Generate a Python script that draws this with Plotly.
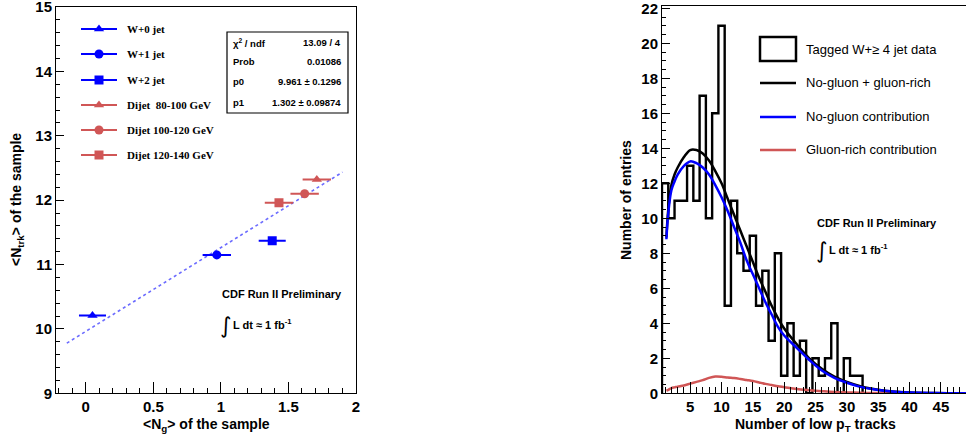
import plotly.graph_objects as go

# ---------------- Left panel data ----------------
samples = ["W+0 jet", "W+1 jet", "W+2 jet", "Dijet  80-100 GeV", "Dijet 100-120 GeV", "Dijet 120-140 GeV"]
ng_mean = [0.05, 0.97, 1.38, 1.71, 1.62, 1.43]
ng_err = [0.10, 0.105, 0.10, 0.105, 0.105, 0.105]
ntrk_mean = [10.21, 11.15, 11.37, 12.32, 12.10, 11.96]
sample_symbols = ["triangle-up", "circle", "square", "triangle-up", "circle", "square"]
sample_colors = ["#0000ff", "#0000ff", "#0000ff", "#d05656", "#d05656", "#d05656"]

fit_p0 = 9.961
fit_p1 = 1.302
fit_x = [-0.14, 1.90]
stats_labels = ["χ<sup>2</sup> / ndf", "Prob", "p0", "p1"]
stats_values = ["13.09 / 4", "0.01086", "9.961 ± 0.1296", "1.302 ± 0.09874"]

left_xticks = [0, 0.5, 1, 1.5, 2]
left_xtick_text = ["0", "0.5", "1", "1.5", "2"]
left_yticks = [9, 10, 11, 12, 13, 14, 15]

# ---------------- Right panel data ----------------
bin_centers = list(range(1, 33))
bin_counts = [12, 10, 11, 11, 13, 11, 17, 10, 16, 21, 5, 11, 8, 7, 9, 5,
              7, 3, 8, 1, 4, 1, 3, 0, 2, 1, 2, 4, 0, 2, 1, 1]
hist_xmax = 49.5

curve_x = [1.2, 1.5, 2, 2.5, 3, 4, 5, 6, 7, 8, 9, 10, 11, 12, 13, 14, 15, 16,
           17, 18, 19, 20, 22, 24, 26, 28, 30, 32, 34, 36, 38, 40, 44, 49]
total_y = [8.9, 10.5, 11.9, 12.5, 12.9, 13.5, 13.9, 13.9, 13.7, 13.3, 12.7, 12.0,
           11.1, 10.2, 9.3, 8.4, 7.5, 6.6, 5.8, 5.0, 4.3, 3.7, 2.8, 2.0, 1.4, 0.95,
           0.65, 0.42, 0.26, 0.15, 0.09, 0.05, 0.015, 0.0]
nogluon_y = [8.8, 10.3, 11.6, 12.1, 12.5, 13.0, 13.25, 13.15, 12.9, 12.5, 11.9, 11.2,
             10.4, 9.5, 8.6, 7.6, 6.8, 6.0, 5.2, 4.5, 3.8, 3.3, 2.6, 1.9, 1.3, 0.88,
             0.6, 0.38, 0.24, 0.14, 0.08, 0.05, 0.015, 0.0]
gluon_y = [0.15, 0.2, 0.3, 0.34, 0.38, 0.45, 0.55, 0.65, 0.75, 0.88, 0.96, 0.95,
           0.9, 0.87, 0.82, 0.76, 0.7, 0.62, 0.54, 0.47, 0.4, 0.35, 0.25, 0.18,
           0.12, 0.07, 0.05, 0.03, 0.02, 0.01, 0.008, 0.006, 0.004, 0.003]

right_xticks = [5, 10, 15, 20, 25, 30, 35, 40, 45]
right_yticks = [0, 2, 4, 6, 8, 10, 12, 14, 16, 18, 20, 22]

legend_right = ["Tagged W+≥ 4 jet data", "No-gluon + gluon-rich",
                "No-gluon contribution", "Gluon-rich contribution"]

W, H = 966, 440
BLUE = "#0000ff"
RED = "#d05656"
AX_FONT = dict(family="Liberation Sans, Arial", size=15, color="black")


def px(x):
    return x / W


def py(y):
    return 1 - y / H


def bold(labels):
    return ["<b>%s</b>" % s for s in labels]


fig = go.Figure()

# fit line (dotted)
fig.add_trace(go.Scatter(
    x=fit_x, y=[fit_p0 + fit_p1 * v for v in fit_x], mode="lines",
    line=dict(color="#6b6bff", width=1.6, dash="dot"),
    xaxis="x", yaxis="y", showlegend=False, hoverinfo="skip"))

for i in range(len(samples)):
    fig.add_trace(go.Scatter(
        x=[ng_mean[i]], y=[ntrk_mean[i]], mode="markers",
        marker=dict(symbol=sample_symbols[i], size=9, color=sample_colors[i]),
        error_x=dict(type="data", array=[ng_err[i]], color=sample_colors[i],
                     thickness=2, width=0),
        xaxis="x", yaxis="y", showlegend=False, name=samples[i]))

# histogram as a step outline
edges = [c - 0.5 for c in bin_centers] + [bin_centers[-1] + 0.5, hist_xmax]
step_y = [0] + bin_counts + [0, 0]
fig.add_trace(go.Scatter(
    x=[edges[0]] + edges, y=step_y, mode="lines", line_shape="hv",
    line=dict(color="black", width=2.4), xaxis="x2", yaxis="y2",
    showlegend=False, hoverinfo="skip"))

fig.add_trace(go.Scatter(x=curve_x, y=gluon_y, mode="lines", line=dict(color=RED, width=2.5),
                         xaxis="x2", yaxis="y2", showlegend=False, line_shape="spline"))
fig.add_trace(go.Scatter(x=curve_x, y=total_y, mode="lines", line=dict(color="black", width=2.5),
                         xaxis="x2", yaxis="y2", showlegend=False, line_shape="spline"))
fig.add_trace(go.Scatter(x=curve_x, y=nogluon_y, mode="lines", line=dict(color=BLUE, width=2.5),
                         xaxis="x2", yaxis="y2", showlegend=False, line_shape="spline"))

# ---------- overlay (pixel) axis for the left legend symbols ----------
leg_rows = [29, 54, 80, 105, 130, 155]
for i in range(len(samples)):
    fig.add_trace(go.Scatter(
        x=[81, 99, 117], y=[leg_rows[i]] * 3, mode="lines",
        line=dict(color=sample_colors[i], width=2), xaxis="x3", yaxis="y3",
        showlegend=False, hoverinfo="skip", cliponaxis=False))
    fig.add_trace(go.Scatter(
        x=[99], y=[leg_rows[i]], mode="markers",
        marker=dict(symbol=sample_symbols[i], size=9, color=sample_colors[i]),
        xaxis="x3", yaxis="y3", showlegend=False, hoverinfo="skip", cliponaxis=False))

annotations = []
shapes = []
for i in range(len(samples)):
    annotations.append(dict(
        x=px(125), y=py(leg_rows[i]), xref="paper", yref="paper", text="<b>%s</b>" % samples[i],
        showarrow=False, xanchor="left", yanchor="middle",
        font=dict(family="Liberation Serif, Times New Roman", size=11, color="black")))

# stats box
shapes.append(dict(type="rect", xref="paper", yref="paper", x0=px(227), x1=px(348),
                   y0=py(113), y1=py(32), line=dict(color="black", width=1.2),
                   fillcolor="white", layer="above"))
stat_rows = [42.7, 61.7, 81.5, 102.5]
SFONT = dict(family="Liberation Sans, Arial", size=9.5, color="black")
for i in range(4):
    annotations.append(dict(x=px(231), y=py(stat_rows[i]), xref="paper", yref="paper",
                            text="<b>%s</b>" % stats_labels[i], showarrow=False, xanchor="left",
                            yanchor="middle", font=SFONT))
    annotations.append(dict(x=px(343), y=py(stat_rows[i]), xref="paper", yref="paper",
                            text="<b>%s</b>" % stats_values[i], showarrow=False, xanchor="right",
                            yanchor="middle", font=SFONT))

PFONT = dict(family="Liberation Sans, Arial", size=11, color="black")
# CDF labels
for (cx, cy, ix, iy) in [(220, 294, 220, 325), (815, 223, 816, 250)]:
    annotations.append(dict(x=px(cx), y=py(cy), xref="paper", yref="paper",
                            text="<b>CDF Run II Preliminary</b>", showarrow=False,
                            xanchor="left", yanchor="middle", font=PFONT))
    annotations.append(dict(x=px(ix - 2), y=py(iy), xref="paper", yref="paper",
                            text="∫", showarrow=False, xanchor="left", yanchor="middle",
                            font=dict(family="DejaVu Sans", size=22, color="black")))
    annotations.append(dict(x=px(ix + 11), y=py(iy - 1), xref="paper", yref="paper",
                            text="<b>L dt ≈ 1 fb<sup>-1</sup></b>", showarrow=False,
                            xanchor="left", yanchor="middle", font=PFONT))

# axis titles
TFONT = dict(family="Liberation Sans, Arial", size=14, color="black")
annotations.append(dict(x=px(206), y=py(425), xref="paper", yref="paper",
                        text="<b><N<sub>g</sub>> of the sample</b>", showarrow=False,
                        xanchor="center", yanchor="middle", font=TFONT))
annotations.append(dict(x=px(17), y=py(200), xref="paper", yref="paper",
                        text="<b><N<sub>trk</sub>> of the sample</b>", showarrow=False,
                        textangle=-90, xanchor="center", yanchor="middle", font=TFONT))
annotations.append(dict(x=px(815), y=py(425), xref="paper", yref="paper",
                        text="<b>Number of low p<sub>T</sub> tracks</b>", showarrow=False,
                        xanchor="center", yanchor="middle", font=TFONT))
annotations.append(dict(x=px(626), y=py(200), xref="paper", yref="paper",
                        text="<b>Number of entries</b>", showarrow=False, textangle=-90,
                        xanchor="center", yanchor="middle", font=TFONT))

# right legend
shapes.append(dict(type="rect", xref="paper", yref="paper", x0=px(760), x1=px(796),
                   y0=py(61), y1=py(37), line=dict(color="black", width=2.5)))
for yy, col in [(83, "black"), (117, BLUE), (150, RED)]:
    shapes.append(dict(type="line", xref="paper", yref="paper", x0=px(760), x1=px(796),
                       y0=py(yy), y1=py(yy), line=dict(color=col, width=2.5)))
LFONT = dict(family="Liberation Sans, Arial", size=13, color="black")
for txt, yy in zip(legend_right, [49.5, 83, 117, 150]):
    annotations.append(dict(x=px(804), y=py(yy), xref="paper", yref="paper", text=txt,
                            showarrow=False, xanchor="left", yanchor="middle", font=LFONT))

common_axis = dict(showgrid=False, zeroline=False, showline=True, linecolor="black",
                   linewidth=1, mirror=True, ticks="inside", tickcolor="black",
                   tickfont=AX_FONT, fixedrange=True, automargin=False,
                   ticklabeloverflow="allow")

fig.update_layout(
    width=W, height=H, margin=dict(l=0, r=0, t=0, b=0, autoexpand=False),
    paper_bgcolor="white", plot_bgcolor="rgba(0,0,0,0)", showlegend=False,
    xaxis=dict(domain=[px(56), px(356)], range=[-0.22, 2.0], anchor="y",
               tickvals=left_xticks, ticktext=bold(left_xtick_text),
               ticklen=11, minor=dict(ticks="inside", ticklen=5, dtick=0.1, tick0=0,
                                      tickcolor="black"), **common_axis),
    yaxis=dict(domain=[py(393.3), py(7)], range=[9, 15.0001], anchor="x",
               tickvals=left_yticks, ticktext=bold([str(v) for v in left_yticks]), ticklen=8,
               minor=dict(ticks="inside", ticklen=4, dtick=0.2, tick0=9, tickcolor="black"),
               **common_axis),
    xaxis2=dict(domain=[px(662), 1.0], range=[0.5, 49.0], anchor="y2",
                tickvals=right_xticks, ticktext=bold([str(v) for v in right_xticks]), ticklen=11,
                minor=dict(ticks="inside", ticklen=6, dtick=1, tick0=0, tickcolor="black"),
                **common_axis),
    yaxis2=dict(domain=[py(393.3), py(6)], range=[0, 22.13], anchor="x2",
                tickvals=right_yticks, ticktext=bold([str(v) for v in right_yticks]), ticklen=8,
                minor=dict(ticks="inside", ticklen=4, dtick=0.5, tick0=0, tickcolor="black"),
                **common_axis),
    xaxis3=dict(domain=[0, 1], range=[0, W], anchor="y3", visible=False, fixedrange=True),
    yaxis3=dict(domain=[0, 1], range=[H, 0], anchor="x3", visible=False, fixedrange=True),
    annotations=annotations, shapes=shapes,
)

fig.write_html("out.html", config={"displayModeBar": False},
               post_script="document.body.style.margin='0';document.body.style.overflow='hidden';")
